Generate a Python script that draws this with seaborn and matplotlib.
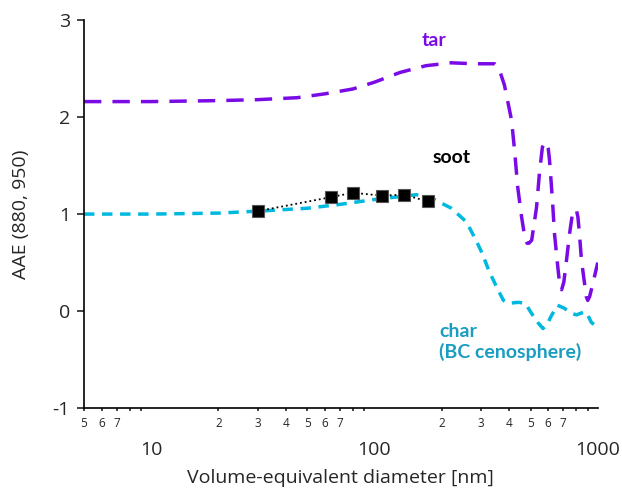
import numpy as np
import pandas as pd
import matplotlib
matplotlib.use("Agg")
import matplotlib.pyplot as plt
from matplotlib.ticker import FixedLocator, FixedFormatter
import seaborn as sns

# tar curve
tar_d = [5, 10, 20, 30, 45, 60, 80, 100, 130, 170, 220, 280, 330, 345, 360,
         382, 411, 424, 438, 456, 472, 482, 492, 506, 532, 548, 565, 580, 590,
         600, 608, 627, 640, 660, 674, 689, 705, 725, 748, 771, 790, 803, 815,
         828, 845, 872, 888, 902, 920, 948, 1000]
tar_aae = [2.16, 2.16, 2.17, 2.18, 2.20, 2.24, 2.29, 2.36, 2.46, 2.53, 2.56, 2.55, 2.55, 2.55, 2.51,
           2.33, 1.97, 1.66, 1.28, 0.97, 0.75, 0.70, 0.70, 0.73, 1.07, 1.42, 1.69, 1.74, 1.74,
           1.68, 1.56, 1.14, 0.80, 0.49, 0.29, 0.22, 0.30, 0.53, 0.80, 1.01, 1.05, 1.04, 0.97,
           0.80, 0.53, 0.29, 0.15, 0.11, 0.15, 0.27, 0.50]

# char (BC cenosphere) curve
char_d = [5, 10, 20, 30, 50, 70, 100, 130, 154, 182, 221, 258, 285, 303, 325,
          352, 378, 400, 441, 474, 504, 540, 568, 590, 616, 660, 707, 760, 803,
          845, 888, 938, 1000]
char_aae = [1.00, 1.00, 1.01, 1.03, 1.06, 1.10, 1.15, 1.18, 1.20, 1.16, 1.06, 0.92, 0.73, 0.60, 0.42,
            0.25, 0.11, 0.08, 0.09, 0.08, -0.02, -0.12, -0.18, -0.15, -0.06, 0.06, 0.03, -0.02, -0.04,
            -0.02, -0.01, -0.12, -0.16]

# soot measurements
soot_d = [30, 64, 80, 108, 136, 173]
soot_aae = [1.03, 1.175, 1.22, 1.19, 1.20, 1.13]

tar_color = "#7A0BE6"
char_color = "#00B8E0"
char_text_color = "#1A9DC0"

sns.set_style("white")
plt.rcParams["font.family"] = ["Open Sans", "DejaVu Sans"]
plt.rcParams["font.stretch"] = "normal"

fig = plt.figure(figsize=(6.22, 4.91), dpi=100)
ax = fig.add_axes([0.135, 0.169, 0.826, 0.790])

tar = pd.DataFrame({"d": tar_d, "aae": tar_aae})
char = pd.DataFrame({"d": char_d, "aae": char_aae})
soot = pd.DataFrame({"d": soot_d, "aae": soot_aae})

sns.lineplot(data=tar, x="d", y="aae", sort=False, estimator=None, ax=ax,
             color=tar_color, linewidth=2.5)
ax.lines[-1].set_dashes([5, 3.2])
sns.lineplot(data=char, x="d", y="aae", sort=False, estimator=None, ax=ax,
             color=char_color, linewidth=2.5)
ax.lines[-1].set_dashes([3, 2.2])
sns.lineplot(data=soot, x="d", y="aae", sort=False, estimator=None, ax=ax,
             color="black", linewidth=1.3, linestyle=":", marker="s",
             markersize=9, markerfacecolor="black", markeredgecolor="#555555",
             markeredgewidth=0.8)

ax.set_xscale("log")
ax.set_xlim(5, 1000)
ax.set_ylim(-1, 3)
ax.set_yticks([-1, 0, 1, 2, 3])
ax.set_yticklabels(["-1", "0", "1", "2", "3"])

ax.xaxis.set_major_locator(FixedLocator([10, 100, 1000]))
ax.set_xticklabels(["10", "100", "1000"])
minor_pos = [5, 6, 7, 8, 9, 20, 30, 40, 50, 60, 70, 80, 90,
             200, 300, 400, 500, 600, 700, 800, 900]
minor_lab = ["5", "6", "7", "", "", "2", "3", "4", "5", "6", "7", "", "",
             "2", "3", "4", "5", "6", "7", "", ""]
ax.xaxis.set_minor_locator(FixedLocator(minor_pos))
ax.xaxis.set_minor_formatter(FixedFormatter(minor_lab))

ax.tick_params(axis="x", which="major", direction="out", length=5, width=1.2,
               pad=19, labelsize=14)
ax.tick_params(axis="x", which="minor", direction="out", length=2.5, width=1.2,
               pad=4, labelsize=8.5, bottom=True)
ax.tick_params(axis="y", which="major", direction="out", length=5, width=1.2,
               pad=5, labelsize=14, left=True)

for s in ["top", "right"]:
    ax.spines[s].set_visible(False)
for s in ["left", "bottom"]:
    ax.spines[s].set_color("black")
    ax.spines[s].set_linewidth(1.2)

ax.set_xlabel("Volume-equivalent diameter [nm]", fontsize=14, labelpad=7)
ax.set_ylabel("AAE (880, 950)", fontsize=14, labelpad=16)

lab_font = dict(family=["Lato", "DejaVu Sans"], fontsize=14, fontweight="bold",
                fontstretch="normal")
ax.text(185, 2.79, "tar", color=tar_color, ha="center", va="center", **lab_font)
ax.text(221, 1.58, "soot", color="black", ha="center", va="center", **lab_font)
ax.text(195, -0.12, "char\n(BC cenosphere)", color=char_text_color,
        ha="left", va="top", linespacing=1.2, **lab_font)

fig.savefig("out.png", dpi=100)
